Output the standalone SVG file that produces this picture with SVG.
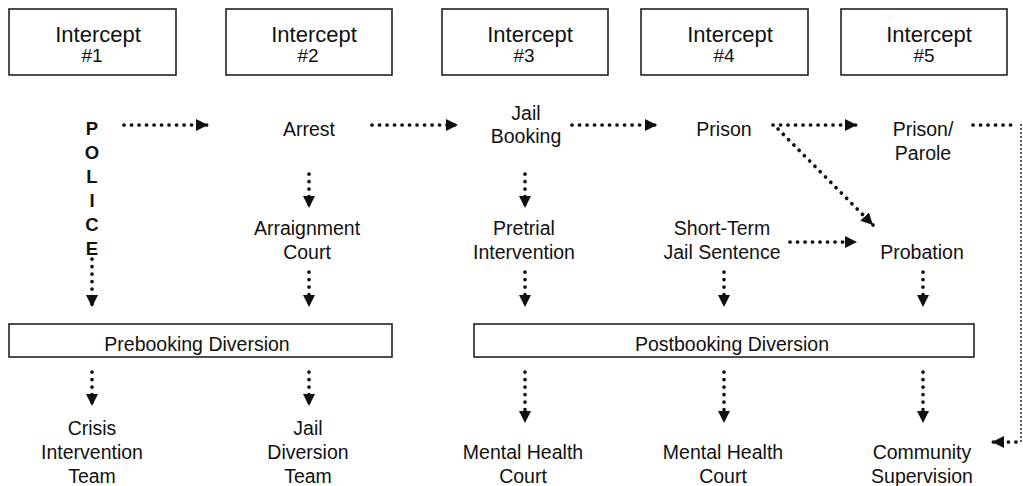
<svg xmlns="http://www.w3.org/2000/svg" width="1023" height="486" viewBox="0 0 1023 486">
<style>
text{font-family:"Liberation Sans",Arial,sans-serif;fill:#111;text-anchor:middle}
.t{font-size:19.5px}
.h{font-size:22px}
.n{font-size:19px}
.p{font-size:18.5px;font-weight:bold}
.box{fill:#fff;stroke:#222;stroke-width:1.6}
.c{fill:none;stroke:#111;stroke-width:3.7;stroke-linecap:round;stroke-dasharray:0.1 7.4}
.thin{fill:none;stroke:#111;stroke-width:1.8;stroke-linecap:round;stroke-dasharray:0.1 3.9}
</style>
<defs>
<marker id="ah" viewBox="0 0 10 10" refX="10" refY="5" markerWidth="12" markerHeight="12" markerUnits="userSpaceOnUse" orient="auto">
<path d="M0,0 L10,5 L0,10 z" fill="#111"/>
</marker>
</defs>
<rect width="1023" height="486" fill="#fff"/>

<g id="intercept1"><rect class="box" x="9" y="9" width="167" height="66"/><text class="h" x="98" y="42">Intercept</text><text class="n" x="92" y="62">#1</text></g>
<g id="intercept2"><rect class="box" x="226" y="9" width="166" height="66"/><text class="h" x="314" y="42">Intercept</text><text class="n" x="308" y="62">#2</text></g>
<g id="intercept3"><rect class="box" x="442" y="9" width="166" height="66"/><text class="h" x="530" y="42">Intercept</text><text class="n" x="524" y="62">#3</text></g>
<g id="intercept4"><rect class="box" x="641" y="9" width="167" height="66"/><text class="h" x="730" y="42">Intercept</text><text class="n" x="724" y="62">#4</text></g>
<g id="intercept5"><rect class="box" x="841" y="9" width="166" height="66"/><text class="h" x="929" y="42">Intercept</text><text class="n" x="924" y="62">#5</text></g>

<g id="police"><text class="p" x="92" y="135">P</text><text class="p" x="92" y="159">O</text><text class="p" x="92" y="183">L</text><text class="p" x="92" y="207">I</text><text class="p" x="92" y="231">C</text><text class="p" x="92" y="255">E</text></g>
<g id="arrest"><text class="t" x="309" y="136">Arrest</text></g>
<g id="jailbooking"><text class="t" x="526" y="120">Jail</text><text class="t" x="526" y="143">Booking</text></g>
<g id="prison"><text class="t" x="724" y="136">Prison</text></g>
<g id="prisonparole"><text class="t" x="923" y="136">Prison/</text><text class="t" x="923" y="160">Parole</text></g>
<g id="arraignment"><text class="t" x="307" y="235">Arraignment</text><text class="t" x="307" y="259">Court</text></g>
<g id="pretrial"><text class="t" x="524" y="235">Pretrial</text><text class="t" x="524" y="259">Intervention</text></g>
<g id="shortterm"><text class="t" x="722" y="235">Short-Term</text><text class="t" x="722" y="259">Jail Sentence</text></g>
<g id="probation"><text class="t" x="922" y="259">Probation</text></g>

<g id="prebooking"><rect class="box" x="9" y="324" width="383" height="33"/><text class="t" x="197" y="351">Prebooking Diversion</text></g>
<g id="postbooking"><rect class="box" x="474" y="324" width="500" height="33"/><text class="t" x="732" y="351">Postbooking Diversion</text></g>

<g id="cit"><text class="t" x="92" y="435">Crisis</text><text class="t" x="92" y="459">Intervention</text><text class="t" x="92" y="483">Team</text></g>
<g id="jdt"><text class="t" x="308" y="435">Jail</text><text class="t" x="308" y="459">Diversion</text><text class="t" x="308" y="483">Team</text></g>
<g id="mhc1"><text class="t" x="523" y="459">Mental Health</text><text class="t" x="523" y="483">Court</text></g>
<g id="mhc2"><text class="t" x="723" y="459">Mental Health</text><text class="t" x="723" y="483">Court</text></g>
<g id="community"><text class="t" x="922" y="459">Community</text><text class="t" x="922" y="483">Supervision</text></g>

<g id="connectors">
<path class="c" d="M124,125 H208" marker-end="url(#ah)"/>
<path class="c" d="M372,125 H458" marker-end="url(#ah)"/>
<path class="c" d="M572,125 H657" marker-end="url(#ah)"/>
<path class="c" d="M773,125 H857" marker-end="url(#ah)"/>
<path class="c" d="M778,129 L873,225" marker-end="url(#ah)"/>
<path class="c" d="M790,242 H857" marker-end="url(#ah)"/>
<path class="c" d="M973,125 H1016"/>
<path class="thin" d="M1021,125 V442"/>
<path class="c" d="M1016,442 H992" marker-end="url(#ah)"/>
<path class="c" d="M309,174 V208" marker-end="url(#ah)"/>
<path class="c" d="M525,174 V208" marker-end="url(#ah)"/>
<path class="c" d="M92,259 V307" marker-end="url(#ah)"/>
<path class="c" d="M309,272 V307" marker-end="url(#ah)"/>
<path class="c" d="M525,272 V307" marker-end="url(#ah)"/>
<path class="c" d="M724,272 V307" marker-end="url(#ah)"/>
<path class="c" d="M923,272 V307" marker-end="url(#ah)"/>
<path class="c" d="M92,372 V406" marker-end="url(#ah)"/>
<path class="c" d="M309,372 V406" marker-end="url(#ah)"/>
<path class="c" d="M525,372 V423" marker-end="url(#ah)"/>
<path class="c" d="M724,372 V423" marker-end="url(#ah)"/>
<path class="c" d="M923,372 V423" marker-end="url(#ah)"/>
</g>
</svg>
